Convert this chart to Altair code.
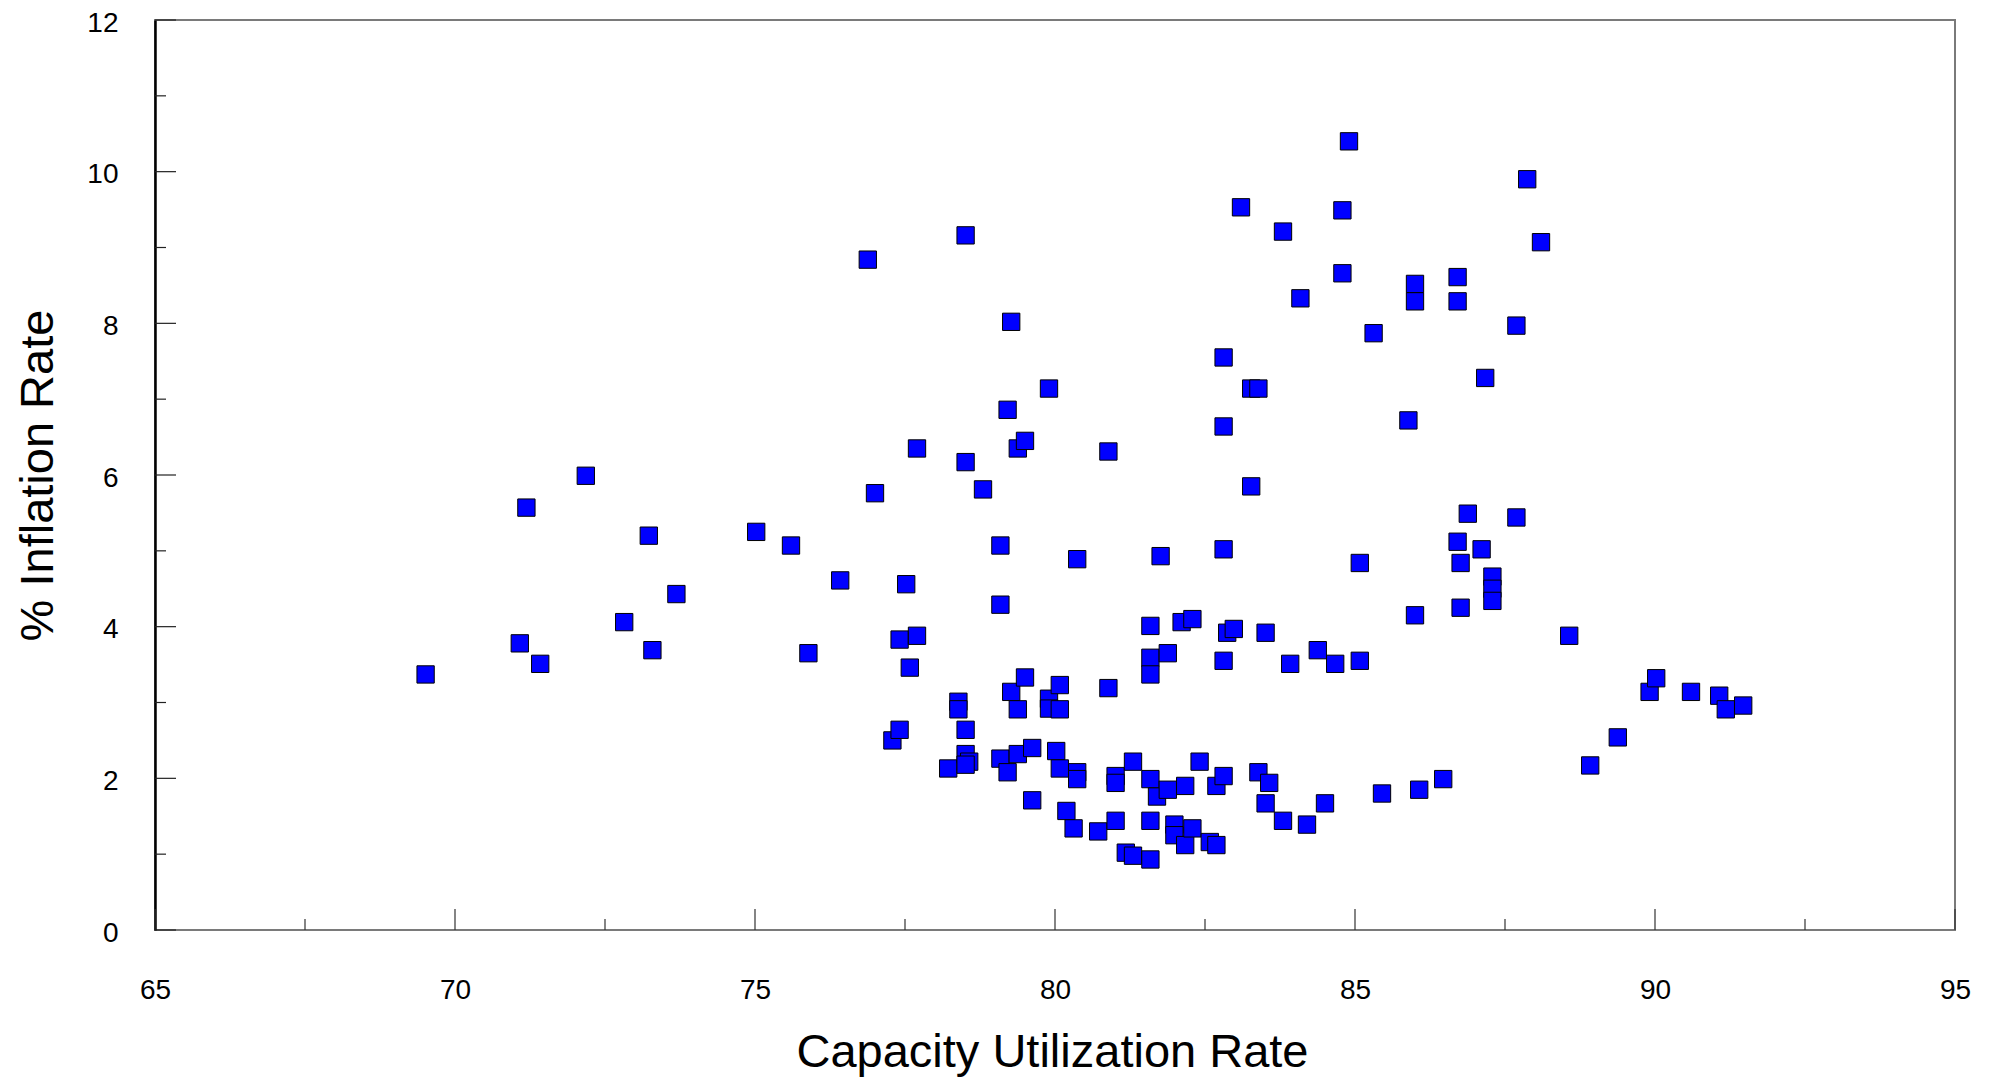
import altair as alt
import pandas as pd

# Capacity utilization (%) and inflation rate (%)
capacity = [
    69.51, 71.08, 71.19, 71.42, 72.18, 72.82, 73.23, 73.29, 73.69, 75.02,
    75.60, 75.89, 76.42, 76.88, 77.00, 77.29, 77.41, 77.41, 77.52, 77.58,
    77.70, 77.70, 78.22, 78.39, 78.39, 78.51, 78.51, 78.51, 78.51, 78.57,
    78.51, 78.80, 79.09, 79.09, 79.09, 79.21, 79.21, 79.27, 79.27, 79.38,
    79.38, 79.38, 79.50, 79.50, 79.62, 79.62, 79.90, 79.90, 79.90, 80.02,
    80.08, 80.08, 80.08, 80.19, 80.31, 80.37, 80.37, 80.37, 80.72, 80.89,
    80.89, 81.01, 81.01, 81.01, 81.18, 81.30, 81.30, 81.59, 81.59, 81.59,
    81.59, 81.59, 81.59, 81.70, 81.76, 81.88, 81.88, 81.99, 81.99, 82.11,
    82.17, 82.17, 82.29, 82.29, 82.41, 82.58, 82.69, 82.69, 82.81, 82.81,
    82.81, 82.81, 82.81, 82.87, 82.98, 83.10, 83.27, 83.39, 83.27, 83.39,
    83.51, 83.51, 83.57, 83.80, 83.80, 83.92, 84.09, 84.20, 84.38, 84.50,
    84.67, 84.79, 84.79, 84.90, 85.08, 85.08, 85.31, 85.45, 85.89, 86.00,
    86.00, 86.00, 86.07, 86.47, 86.71, 86.71, 86.71, 86.76, 86.76, 86.88,
    87.11, 87.17, 87.29, 87.29, 87.29, 87.69, 87.69, 87.87, 88.10, 88.57,
    88.92, 89.38, 89.91, 90.02, 90.60, 91.07, 91.18, 91.47,
]
inflation = [
    3.37, 3.78, 5.57, 3.51, 5.99, 4.06, 5.20, 3.69, 4.43, 5.25,
    5.07, 3.65, 4.61, 8.84, 5.76, 2.50, 2.64, 3.83, 4.56, 3.46,
    3.88, 6.35, 2.13, 3.01, 2.91, 9.16, 6.17, 2.64, 2.32, 2.22,
    2.18, 5.81, 5.07, 4.29, 2.26, 6.86, 2.08, 8.02, 3.14, 6.35,
    2.91, 2.32, 6.45, 3.33, 2.40, 1.71, 7.14, 3.05, 2.92, 2.36,
    3.23, 2.91, 2.13, 1.57, 1.34, 2.08, 1.99, 4.89, 1.30, 6.31,
    3.19, 2.03, 1.94, 1.44, 1.02, 0.98, 2.22, 4.01, 3.59, 3.37,
    1.99, 1.44, 0.93, 1.76, 4.93, 3.65, 1.85, 1.39, 1.25, 4.06,
    1.90, 1.12, 4.10, 1.34, 2.22, 1.16, 1.90, 1.12, 7.55, 6.64,
    5.02, 3.55, 2.03, 3.92, 3.97, 9.53, 7.14, 7.14, 5.85, 2.08,
    3.92, 1.67, 1.94, 9.21, 1.44, 3.51, 8.33, 1.39, 3.69, 1.67,
    3.51, 9.49, 8.66, 10.40, 4.84, 3.55, 7.87, 1.80, 6.72, 8.52,
    8.29, 4.15, 1.85, 1.99, 8.61, 8.29, 5.12, 4.84, 4.25, 5.49,
    5.02, 7.28, 4.66, 4.50, 4.34, 7.97, 5.44, 9.90, 9.07, 3.88,
    2.17, 2.54, 3.14, 3.32, 3.14, 3.09, 2.91, 2.96,
]

x_major = [65, 70, 75, 80, 85, 90, 95]
x_minor = [67.5, 72.5, 77.5, 82.5, 87.5, 92.5]
y_major = [0, 2, 4, 6, 8, 10, 12]
y_minor = [1, 3, 5, 7, 9, 11]

W, H = 1800, 910
FONT = "Liberation Sans"

df = pd.DataFrame({"cap": capacity, "infl": inflation})
xscale = alt.Scale(domain=[65, 95], nice=False, zero=False)
yscale = alt.Scale(domain=[0, 12], nice=False, zero=False)

xaxis = alt.Axis(
    title="Capacity Utilization Rate", values=x_major, ticks=False,
    domain=False, grid=False, labelPadding=46, labelFontSize=28,
    labelColor="black", labelFont=FONT, titleFont=FONT, titleFontSize=47,
    titleFontWeight="normal", titleColor="black", titleX=897, titleY=136,
    titleBaseline="alphabetic", labelFlush=False)
yaxis = alt.Axis(
    title="% Inflation Rate", values=y_major, ticks=False,
    domain=True, domainColor="black", domainWidth=2.5, grid=False,
    labelPadding=37, labelFontSize=28, labelColor="black", labelFont=FONT,
    labelOffset=3,
    titleFont=FONT, titleFontSize=47, titleFontWeight="normal",
    titleColor="black", titleAngle=270, titleX=-103, titleY=H / 2,
    titleBaseline="alphabetic", titleAlign="center", labelFlush=False)

points = alt.Chart(df).mark_point(
    shape="square", filled=True, size=300, fill="#0000ff",
    stroke="#000000", strokeWidth=1, opacity=1,
).encode(
    x=alt.X("cap:Q", scale=xscale, axis=xaxis),
    y=alt.Y("infl:Q", scale=yscale, axis=yaxis),
)

def xticks(vals, length):
    return alt.Chart(pd.DataFrame({"cap": vals})).mark_rule(
        color="#333333", strokeWidth=1.2
    ).encode(
        x=alt.X("cap:Q", scale=xscale, axis=xaxis),
        y=alt.value(H), y2=alt.value(H - length),
    )

def yticks(vals, length):
    return alt.Chart(pd.DataFrame({"infl": vals})).mark_rule(
        color="#222222", strokeWidth=1.2
    ).encode(
        y=alt.Y("infl:Q", scale=yscale, axis=yaxis),
        x=alt.value(0), x2=alt.value(length),
    )

chart = alt.layer(
    points,
    xticks(x_major, 21), xticks(x_minor, 11),
    yticks(y_major, 21), yticks(y_minor, 11),
).properties(
    width=W, height=H,
    autosize=alt.AutoSizeParams(type="none"),
    padding={"left": 147, "top": 12, "right": 30, "bottom": 147},
).configure_view(
    stroke="#7a7a7a", strokeWidth=2
)

chart.save("out.html", embed_options={"renderer": "svg", "actions": False})
